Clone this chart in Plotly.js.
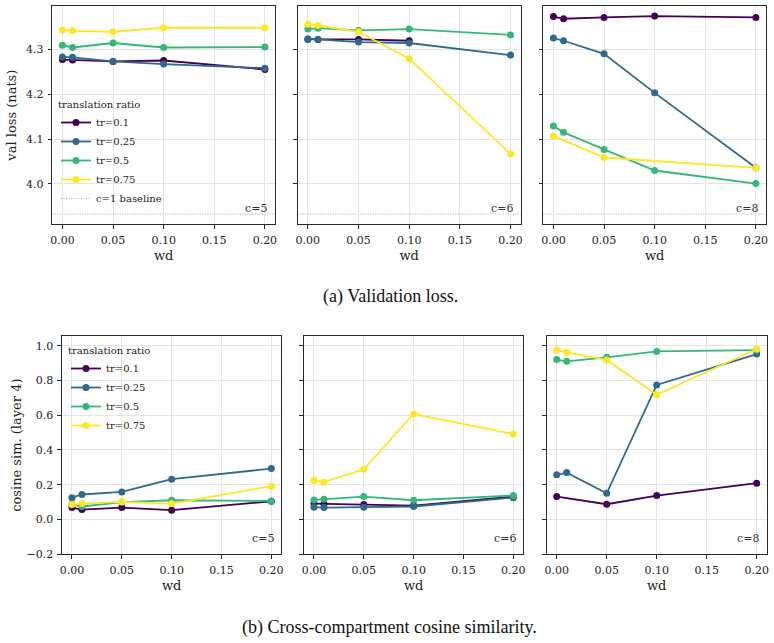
<!DOCTYPE html>
<html>
<head>
<meta charset="utf-8">
<script src="https://cdn.plot.ly/plotly-3.0.1.min.js"></script>
<style>
  html, body { margin: 0; padding: 0; background: #fff; }
  #chart { width: 774px; height: 643px; }
</style>
</head>
<body>
<div id="chart"></div>
<script>
// Weight-decay sweep
const wd = [0, 0.01, 0.05, 0.1, 0.2];
const ratioLabels = ['tr=0.1', 'tr=0.25', 'tr=0.5', 'tr=0.75'];
const ratioColors = ['#440154', '#31688e', '#35b779', '#fde725'];
const compartmentLabels = ['c=5', 'c=6', 'c=8'];
const xTickVals = [0, 0.05, 0.1, 0.15, 0.2];

// Validation loss (nats), one array per compartment count and translation ratio
const lossC5_tr01  = [4.277, 4.276, 4.273, 4.275, 4.255];
const lossC5_tr025 = [4.283, 4.282, 4.273, 4.267, 4.258];
const lossC5_tr05  = [4.309, 4.304, 4.314, 4.304, 4.305];
const lossC5_tr075 = [4.343, 4.341, 4.339, 4.348, 4.348];

const lossC6_tr01  = [4.323, 4.322, 4.322, 4.319, null];
const lossC6_tr025 = [4.322, 4.322, 4.316, 4.314, 4.287];
const lossC6_tr05  = [4.345, 4.347, 4.342, 4.345, 4.332];
const lossC6_tr075 = [4.356, 4.353, 4.339, 4.279, 4.067];

const lossC8_tr01  = [4.373, 4.368, 4.371, 4.374, 4.371];
const lossC8_tr025 = [4.325, 4.319, 4.290, 4.203, 4.036];
const lossC8_tr05  = [4.129, 4.115, 4.077, 4.030, 4.001];
const lossC8_tr075 = [4.107, null, 4.059, null, 4.036];

const baselineLoss = 3.933;   // c=1 reference run
const lossTicks = [4.0, 4.1, 4.2, 4.3];

// Cross-compartment cosine similarity (layer 4)
const cosC5_tr01  = [0.069, 0.057, 0.069, 0.054, 0.105];
const cosC5_tr025 = [0.126, 0.144, 0.159, 0.232, 0.293];
const cosC5_tr05  = [0.090, 0.075, 0.100, 0.111, 0.107];
const cosC5_tr075 = [0.086, 0.092, 0.102, 0.092, 0.192];

const cosC6_tr01  = [0.092, 0.090, 0.086, 0.080, 0.132];
const cosC6_tr025 = [0.071, 0.069, 0.071, 0.075, 0.126];
const cosC6_tr05  = [0.113, 0.117, 0.132, 0.111, 0.138];
const cosC6_tr075 = [0.224, 0.215, 0.289, 0.607, 0.492];

const cosC8_tr01  = [0.132, null, 0.088, 0.138, 0.209];
const cosC8_tr025 = [0.257, 0.270, 0.151, 0.774, 0.952];
const cosC8_tr05  = [0.920, 0.910, 0.933, 0.967, 0.975];
const cosC8_tr075 = [0.975, 0.962, 0.918, 0.718, 0.981];

const cosZero = 0;
const cosTicks = [-0.2, 0, 0.2, 0.4, 0.6, 0.8, 1.0];

const lossSeries = [
  [lossC5_tr01, lossC5_tr025, lossC5_tr05, lossC5_tr075],
  [lossC6_tr01, lossC6_tr025, lossC6_tr05, lossC6_tr075],
  [lossC8_tr01, lossC8_tr025, lossC8_tr05, lossC8_tr075]
];
const cosSeries = [
  [cosC5_tr01, cosC5_tr025, cosC5_tr05, cosC5_tr075],
  [cosC6_tr01, cosC6_tr025, cosC6_tr05, cosC6_tr075],
  [cosC8_tr01, cosC8_tr025, cosC8_tr05, cosC8_tr075]
];

const FONT = 'DejaVu Serif, serif';
const CAPTION_FONT = '"Liberation Serif", "Times New Roman", serif';
const W = 774, H = 643;
// panel boxes in pixels: [left, right, top, bottom]
const topBoxes = [[52.3, 275, 6, 224.3], [297.7, 520.7, 6, 224.3], [543.3, 766, 6, 224.3]];
const botBoxes = [[62, 281.3, 336, 554.3], [304, 523.3, 336, 554.3], [546.7, 766.7, 336, 554.3]];

const traces = [];
function addRow(series, axOffset, legendName) {
  series.forEach((group, p) => {
    const n = axOffset + p + 1;
    const xa = n === 1 ? 'x' : 'x' + n;
    const ya = n === 1 ? 'y' : 'y' + n;
    group.forEach((vals, k) => {
      traces.push({
        type: 'scatter', mode: 'lines+markers',
        x: wd, y: vals, xaxis: xa, yaxis: ya,
        connectgaps: true,
        name: ratioLabels[k],
        legend: legendName,
        legendgroup: legendName + k,
        showlegend: p === 0,
        legendrank: k + 1,
        line: { color: ratioColors[k], width: 1.8 },
        marker: { color: ratioColors[k], size: 7 }
      });
    });
  });
}
addRow(lossSeries, 0, 'legend');
addRow(cosSeries, 3, 'legend2');

const layout = {
  width: W, height: H,
  margin: { l: 0, r: 0, t: 0, b: 0 },
  paper_bgcolor: '#fff', plot_bgcolor: '#fff',
  font: { family: FONT, size: 11, color: '#222' },
  showlegend: true,
  shapes: [], annotations: []
};

function axisBase() {
  return {
    showline: true, mirror: true, linecolor: '#2a2a2a', linewidth: 1.1,
    ticks: 'outside', ticklen: 3.5, tickwidth: 1, tickcolor: '#2a2a2a',
    showgrid: true, gridcolor: '#e4e4e4', gridwidth: 1,
    zeroline: false, tickfont: { family: FONT, size: 11, color: '#222' },
    ticklabelstandoff: 2
  };
}

function addPanels(boxes, axOffset, yRange, yTicks, yTitle, yFmt, yStandoff) {
  boxes.forEach((b, p) => {
    const n = axOffset + p + 1;
    const xk = n === 1 ? 'xaxis' : 'xaxis' + n;
    const yk = n === 1 ? 'yaxis' : 'yaxis' + n;
    const xa = n === 1 ? 'x' : 'x' + n;
    const ya = n === 1 ? 'y' : 'y' + n;
    layout[xk] = Object.assign(axisBase(), {
      domain: [b[0] / W, b[1] / W], anchor: ya,
      range: [-0.01, 0.21], tickvals: xTickVals, tickformat: '.2f',
      title: { text: 'wd', font: { family: FONT, size: 13, color: '#222' }, standoff: 4 }
    });
    layout[yk] = Object.assign(axisBase(), {
      domain: [1 - b[3] / H, 1 - b[2] / H], anchor: xa,
      range: yRange, tickvals: yTicks, tickformat: yFmt,
      showticklabels: p === 0
    });
    if (p === 0) {
      layout[yk].title = { text: yTitle, font: { family: FONT, size: 13, color: '#222' }, standoff: yStandoff };
    }
    layout.annotations.push({
      xref: xa + ' domain', yref: ya + ' domain', x: 0.975, y: 0.035,
      xanchor: 'right', yanchor: 'bottom', showarrow: false,
      text: compartmentLabels[p], font: { family: FONT, size: 11, color: '#333' }
    });
  });
}

addPanels(topBoxes, 0, [3.9102, 4.3964], lossTicks, 'val loss (nats)', '.1f', 6);
addPanels(botBoxes, 3, [-0.2, 1.0557], cosTicks, 'cosine sim. (layer 4)', '.1f', 1);

// c=1 baseline (top row) and zero reference (bottom row)
const dotted = { color: '#a8a8a8', width: 1, dash: '1px,1.5px' };
[1, 2, 3].forEach((n, i) => {
  const xa = n === 1 ? 'x' : 'x' + n;
  const ya = n === 1 ? 'y' : 'y' + n;
  layout.shapes.push({
    type: 'line', xref: xa + ' domain', yref: ya, x0: 0, x1: 1, y0: baselineLoss, y1: baselineLoss,
    line: dotted, layer: 'below',
    name: 'c=1 baseline', showlegend: i === 0, legend: 'legend', legendrank: 10
  });
});
[4, 5, 6].forEach(n => {
  layout.shapes.push({
    type: 'line', xref: 'x' + n + ' domain', yref: 'y' + n, x0: 0, x1: 1, y0: cosZero, y1: cosZero,
    line: dotted, layer: 'below'
  });
});

function legendStyle(x, y, yanchor) {
  return {
    x: x / W, y: 1 - y / H, xanchor: 'left', yanchor: yanchor,
    bgcolor: 'rgba(0,0,0,0)', borderwidth: 0,
    font: { family: FONT, size: 10, color: '#222' },
    title: { text: 'translation ratio', side: 'top', font: { family: FONT, size: 10, color: '#222' } },
    traceorder: 'normal', itemwidth: 30
  };
}
layout.legend = legendStyle(56, 213, 'bottom');
layout.legend2 = legendStyle(66, 341, 'top');

// Sub-figure captions
layout.annotations.push({
  xref: 'paper', yref: 'paper', x: 0.504, y: 1 - 296 / H, xanchor: 'center', yanchor: 'middle',
  showarrow: false, text: '(a) Validation loss.',
  font: { family: CAPTION_FONT, size: 18, color: '#111' }
});
layout.annotations.push({
  xref: 'paper', yref: 'paper', x: 0.503, y: 1 - 627 / H, xanchor: 'center', yanchor: 'middle',
  showarrow: false, text: '(b) Cross-compartment cosine similarity.',
  font: { family: CAPTION_FONT, size: 18, color: '#111' }
});

Plotly.newPlot('chart', traces, layout, { displayModeBar: false, staticPlot: true });
</script>
</body>
</html>
